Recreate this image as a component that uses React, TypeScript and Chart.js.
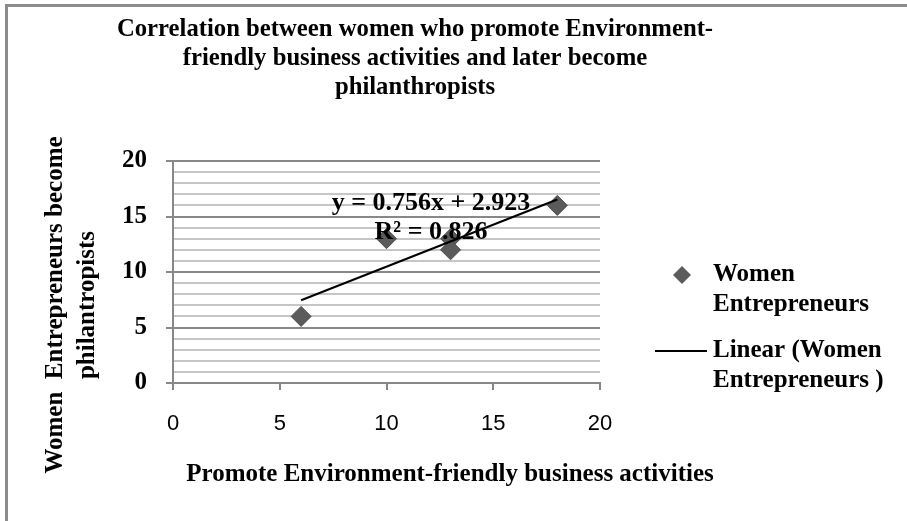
import React, { useEffect, useRef } from "react";
import { Chart, registerables } from "chart.js";

Chart.register(...registerables);

// ---- data ----
const PROMOTE_X: number[] = [6, 10, 13, 13, 18];
const PHILANTHROPIST_Y: number[] = [6, 13, 13, 12, 16];
const SERIES_LABEL = "Women Entrepreneurs";
const TREND_LABEL = "Linear (Women Entrepreneurs )";
const TREND_SLOPE = 0.756;
const TREND_INTERCEPT = 2.923;
const TREND_R2 = 0.826;
const TREND_RANGE: number[] = [6, 18];
const TITLE_LINES: string[] = [
  "Correlation between women who promote Environment-",
  "friendly business activities and later become",
  "philanthropists",
];
const X_TITLE = "Promote Environment-friendly business activities";
const Y_TITLE_LINES: string[] = ["Women  Entrepreneurs become", "philantropists"];
const LEGEND_SERIES_LINES: string[] = ["Women", "Entrepreneurs"];
const LEGEND_TREND_LINES: string[] = ["Linear (Women", "Entrepreneurs )"];

const SERIF = '"Liberation Serif", "Times New Roman", serif';
const SANS = '"Liberation Sans", Arial, sans-serif';

const decorPlugin = {
  id: "decor",
  afterDraw(chart: any) {
    const ctx: CanvasRenderingContext2D = chart.ctx;
    ctx.save();
    ctx.fillStyle = "#000";
    ctx.textBaseline = "middle";

    // title (slightly condensed)
    ctx.textAlign = "center";
    ctx.font = `bold 26px ${SERIF}`;
    TITLE_LINES.forEach((t, i) => {
      ctx.save();
      ctx.translate(415, 29 + i * 29);
      ctx.scale(0.95, 1);
      ctx.fillText(t, 0, 0);
      ctx.restore();
    });

    // x axis title
    ctx.font = `bold 25px ${SERIF}`;
    ctx.fillText(X_TITLE, 450, 475);

    // y axis title (rotated)
    Y_TITLE_LINES.forEach((t, i) => {
      ctx.save();
      ctx.translate(56 + i * 32, 305);
      ctx.rotate(-Math.PI / 2);
      ctx.fillText(t, 0, 0);
      ctx.restore();
    });

    // trendline equation
    ctx.font = `bold 26px ${SERIF}`;
    ctx.fillText(`y = ${TREND_SLOPE.toFixed(3)}x + ${TREND_INTERCEPT.toFixed(3)}`, 431, 203);
    ctx.fillText(`R\u00B2 = ${TREND_R2.toFixed(3)}`, 431, 232);

    // legend
    ctx.textAlign = "left";
    ctx.font = `bold 25px ${SERIF}`;
    const dx = 682, dy = 275, r = 9;
    ctx.beginPath();
    ctx.moveTo(dx - r, dy);
    ctx.lineTo(dx, dy - r);
    ctx.lineTo(dx + r, dy);
    ctx.lineTo(dx, dy + r);
    ctx.closePath();
    ctx.fillStyle = "#5b5b5b";
    ctx.fill();
    ctx.fillStyle = "#000";
    LEGEND_SERIES_LINES.forEach((t, i) => ctx.fillText(t, 713, 275 + i * 30));
    ctx.strokeStyle = "#000";
    ctx.lineWidth = 2;
    ctx.beginPath();
    ctx.moveTo(655, 351);
    ctx.lineTo(707, 351);
    ctx.stroke();
    LEGEND_TREND_LINES.forEach((t, i) => ctx.fillText(t, 713, 351 + i * 30));

    ctx.restore();
  },
};

export default function App() {
  const canvasRef = useRef<HTMLCanvasElement | null>(null);

  useEffect(() => {
    if (!canvasRef.current) return;
    const points = PROMOTE_X.map((x, i) => ({ x, y: PHILANTHROPIST_Y[i] }));
    const trend = TREND_RANGE.map((x) => ({ x, y: TREND_SLOPE * x + TREND_INTERCEPT }));
    const chart = new Chart(canvasRef.current, {
      type: "scatter",
      data: {
        datasets: [
          {
            label: TREND_LABEL,
            type: "line",
            data: trend,
            borderColor: "#000",
            borderWidth: 2,
            pointRadius: 0,
            showLine: true,
            fill: false,
            order: 0,
          } as any,
          {
            label: SERIES_LABEL,
            data: points,
            pointStyle: "rectRot",
            pointRadius: 10,
            pointHoverRadius: 10,
            backgroundColor: "#5b5b5b",
            borderColor: "#4a4a4a",
            borderWidth: 1,
            order: 1,
          },
        ],
      },
      options: {
        animation: false,
        responsive: false,
        devicePixelRatio: 1,
        events: [],
        layout: { padding: { left: 103, right: 307, top: 161, bottom: 78 } },
        plugins: {
          legend: { display: false },
          title: { display: false },
          tooltip: { enabled: false },
        },
        scales: {
          x: {
            type: "linear",
            min: 0,
            max: 20,
            ticks: {
              stepSize: 5,
              color: "#000",
              font: { family: SANS, size: 22 },
              padding: 21,
            },
            grid: {
              drawOnChartArea: false,
              drawTicks: true,
              tickLength: 7,
              color: "#868686",
              lineWidth: 2,
            },
            border: { display: true, color: "#868686", width: 2 },
            afterFit: (s: any) => {
              s.height = 60;
            },
          },
          y: {
            type: "linear",
            min: 0,
            max: 20,
            ticks: {
              stepSize: 1,
              autoSkip: false,
              color: "#000",
              font: { family: SERIF, size: 25, weight: "bold" },
              padding: 19,
              callback: (v: any) => (Number(v) % 5 === 0 ? String(v) : ""),
            },
            grid: {
              color: (c: any) => (c.tick && c.tick.value % 5 === 0 ? "#888888" : "#c6c6c6"),
              tickColor: (c: any) => (c.tick && c.tick.value % 5 === 0 ? "#888888" : "rgba(0,0,0,0)"),
              lineWidth: 2,
              tickLength: 7,
            },
            border: { display: true, color: "#888888", width: 2 },
            afterFit: (s: any) => {
              s.width = 70;
            },
          },
        },
      },
      plugins: [decorPlugin],
    });
    return () => chart.destroy();
  }, []);

  return (
    <div style={{ position: "fixed", left: 0, top: 0, width: 907, height: 521, background: "#fff" }}>
      <canvas ref={canvasRef} width={907} height={521} style={{ position: "absolute", left: 0, top: 0 }} />
      <div style={{ position: "absolute", left: 5, top: 4, right: 0, height: 3, background: "#8c8c8c" }} />
      <div style={{ position: "absolute", left: 5, top: 4, bottom: 0, width: 3, background: "#8c8c8c" }} />
    </div>
  );
}
